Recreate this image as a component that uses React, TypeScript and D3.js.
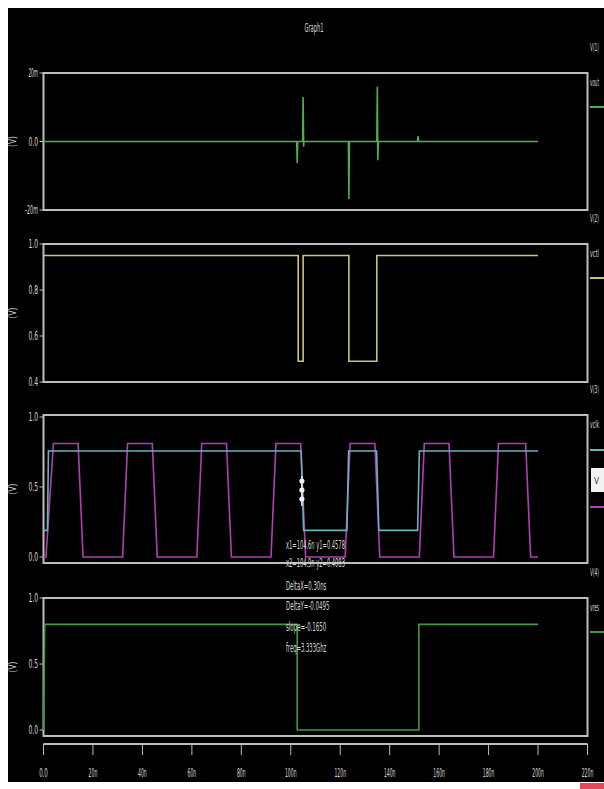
import * as d3 from "d3";

// time axis (ns)
const timeTicks = [0, 20, 40, 60, 80, 100, 120, 140, 160, 180, 200, 220];
const timeLabels = ["0.0", "20n", "40n", "60n", "80n", "100n", "120n", "140n", "160n", "180n", "200n", "220n"];

// panel 1 : glitch trace (mV)
const p1Time = [0, 102.4, 102.6, 102.8, 104.8, 105, 105.2, 105.3, 123.3, 123.5, 123.7, 134.8, 135, 135.2, 135.4, 151.3, 151.5, 151.7, 200];
const p1Value = [0, 0, -6.3, 0, 0, 13, -1.5, 0, 0, -16.8, 0, 0, 16, -5.5, 0, 0, 1.6, 0, 0];

// panel 2 : yellow
const p2Time = [0, 103, 103, 105, 105, 123.5, 123.5, 134.8, 134.8, 200];
const p2Value = [0.95, 0.95, 0.49, 0.49, 0.95, 0.95, 0.49, 0.49, 0.95, 0.95];

// panel 3 : clock (magenta) and cyan
const clkTime = [0, 1, 4, 14, 16, 32, 34, 44, 46, 62, 64, 74, 76, 92, 94, 104, 106, 122, 124, 134, 136, 152, 154, 164, 166, 182, 184, 195, 197, 200];
const clkValue = [0, 0, 0.81, 0.81, 0, 0, 0.81, 0.81, 0, 0, 0.81, 0.81, 0, 0, 0.81, 0.81, 0, 0, 0.81, 0.81, 0, 0, 0.81, 0.81, 0, 0, 0.81, 0.81, 0, 0];
const cyTime = [0, 1.6, 2, 104.2, 105.2, 122.7, 123.4, 134.7, 135.6, 151.3, 152, 200];
const cyValue = [0.19, 0.19, 0.757, 0.757, 0.19, 0.19, 0.757, 0.757, 0.19, 0.19, 0.757, 0.757];

// panel 4 : green
const p4Time = [0, 0.5, 102.6, 102.6, 151.8, 151.8, 200];
const p4Value = [0, 0.8, 0.8, 0, 0, 0.8, 0.8];

// cursor readout
const readout = ["x1=104.6n y1=0.4578", "x2=104.9n y2=0.4083", "DeltaX=0.30ns", "DeltaY=-0.0495", "slope=-0.1650", "freq=3.333Ghz"];

const legendHeads = ["V(1)", "V(2)", "V(3)", "V(4)"];
const legendNames = ["vout", "vctl", "vclk", "vres"];

const W = 604;
const H = 789;
const FONT = "DejaVu Sans, sans-serif";
const TXT = "#d6d6d6";
const FRAME = "#bdbdbd";

const x = d3.scaleLinear().domain([0, 220]).range([43.5, 587.5]);

const panels = [
  { top: 73, bottom: 210, domain: [-20, 20], ticks: [20, 0, -20], labels: ["20m", "0.0", "-20m"] },
  { top: 244, bottom: 382, domain: [0.4, 1.0], ticks: [1, 0.8, 0.6, 0.4], labels: ["1.0", "0.8", "0.6", "0.4"] },
  { top: 415, bottom: 563, domain: [-0.043, 1.014], ticks: [1, 0.5, 0], labels: ["1.0", "0.5", "0.0"] },
  { top: 598, bottom: 736, domain: [-0.045, 1.0], ticks: [1, 0.5, 0], labels: ["1.0", "0.5", "0.0"] },
];

const ys = panels.map((p) => d3.scaleLinear().domain(p.domain).range([p.bottom, p.top]));

function trace(ts: number[], vs: number[], y: d3.ScaleLinear<number, number>) {
  const pts = ts.map((t, i) => [t, vs[i]] as [number, number]);
  return d3.line<[number, number]>().x((d) => x(d[0])).y((d) => y(d[1]))(pts) || "";
}

const series = [
  { panel: 0, t: p1Time, v: p1Value, color: "#4fae4f" },
  { panel: 1, t: p2Time, v: p2Value, color: "#c9c86a" },
  { panel: 2, t: clkTime, v: clkValue, color: "#b23fb2" },
  { panel: 2, t: cyTime, v: cyValue, color: "#68b3be" },
  { panel: 3, t: p4Time, v: p4Value, color: "#3f9a3f" },
];

// legend swatches per panel (y offsets from panel top)
const legendSwatch = [
  [{ dy: 34, color: "#4fae4f" }],
  [{ dy: 34, color: "#c9c86a" }],
  [{ dy: 35, color: "#68b3be" }, { dy: 92, color: "#b23fb2" }],
  [{ dy: 34, color: "#3f9a3f" }],
];

export default function App() {
  const cursorX = x(104.5);
  return (
    <svg width={W} height={H} style={{ position: "absolute", left: 0, top: 0, display: "block" }}>
      <rect x={0} y={0} width={W} height={H} fill="#ffffff" />
      <rect x={8} y={8} width={W - 8} height={774} fill="#000000" />
      <rect x={580} y={783} width={24} height={6} fill="#e0485c" />

      <text x={314} y={32} fill={TXT} fontFamily={FONT} fontSize={12} textAnchor="middle" textLength={19} lengthAdjust="spacingAndGlyphs">
        Graph1
      </text>

      {panels.map((p, i) => (
        <g key={i}>
          <rect x={x(0)} y={p.top} width={x(220) - x(0)} height={p.bottom - p.top} fill="none" stroke={FRAME} strokeWidth={2} />
          {p.ticks.map((tv, j) => (
            <g key={j}>
              <line x1={x(0) - 4} x2={x(0)} y1={ys[i](tv)} y2={ys[i](tv)} stroke={FRAME} strokeWidth={1} />
              <text
                x={38}
                y={ys[i](tv) + 4}
                fill={TXT}
                fontFamily={FONT}
                fontSize={12}
                textAnchor="end"
                textLength={p.labels[j].length * 3.2}
                lengthAdjust="spacingAndGlyphs"
              >
                {p.labels[j]}
              </text>
            </g>
          ))}
          <text
            transform={`translate(16,${(p.top + p.bottom) / 2}) rotate(-90)`}
            fill={TXT}
            fontFamily={FONT}
            fontSize={11}
            textAnchor="middle"
            textLength={11}
            lengthAdjust="spacingAndGlyphs"
          >
            (V)
          </text>
          <text x={590} y={p.top - 22} fill={TXT} fontFamily={FONT} fontSize={11} textLength={9} lengthAdjust="spacingAndGlyphs">
            {legendHeads[i]}
          </text>
          <text x={590} y={p.top + 13} fill={TXT} fontFamily={FONT} fontSize={10} textLength={9} lengthAdjust="spacingAndGlyphs">
            {legendNames[i]}
          </text>
          {legendSwatch[i].map((s, k) => (
            <line key={k} x1={590} x2={W} y1={p.top + s.dy} y2={p.top + s.dy} stroke={s.color} strokeWidth={2} />
          ))}
        </g>
      ))}

      {/* selected trace marker in legend */}
      <rect x={591} y={468} width={13} height={24} fill="#f2f2f2" />
      <text x={594} y={484} fill="#333" fontFamily={FONT} fontSize={9} textLength={5} lengthAdjust="spacingAndGlyphs">
        V
      </text>

      {series.map((s, i) => (
        <path key={i} d={trace(s.t, s.v, ys[s.panel])} fill="none" stroke={s.color} strokeWidth={1.6} />
      ))}

      {/* cursor */}
      <line x1={cursorX} x2={cursorX} y1={476} y2={506} stroke="#e8e8e8" strokeWidth={1.5} />
      {[481, 490, 499].map((cy) => (
        <circle key={cy} cx={cursorX} cy={cy} r={2.6} fill="#f0f0f0" />
      ))}

      {readout.map((r, i) => (
        <text
          key={i}
          x={286}
          y={[549, 567, 590, 610, 631, 652][i]}
          fill={TXT}
          fontFamily={FONT}
          fontSize={12}
          textLength={r.length * 3.1}
          lengthAdjust="spacingAndGlyphs"
        >
          {r}
        </text>
      ))}

      {/* time axis */}
      <line x1={x(0)} x2={x(220)} y1={744} y2={744} stroke={FRAME} strokeWidth={2} />
      {timeTicks.map((t, i) => (
        <g key={t}>
          <line x1={x(t)} x2={x(t)} y1={744} y2={755} stroke={FRAME} strokeWidth={1} />
          <text
            x={Math.min(x(t), 596)}
            y={777}
            fill={TXT}
            fontFamily={FONT}
            fontSize={12}
            textAnchor="middle"
            textLength={timeLabels[i].length * 2.9}
            lengthAdjust="spacingAndGlyphs"
          >
            {timeLabels[i]}
          </text>
        </g>
      ))}
    </svg>
  );
}
